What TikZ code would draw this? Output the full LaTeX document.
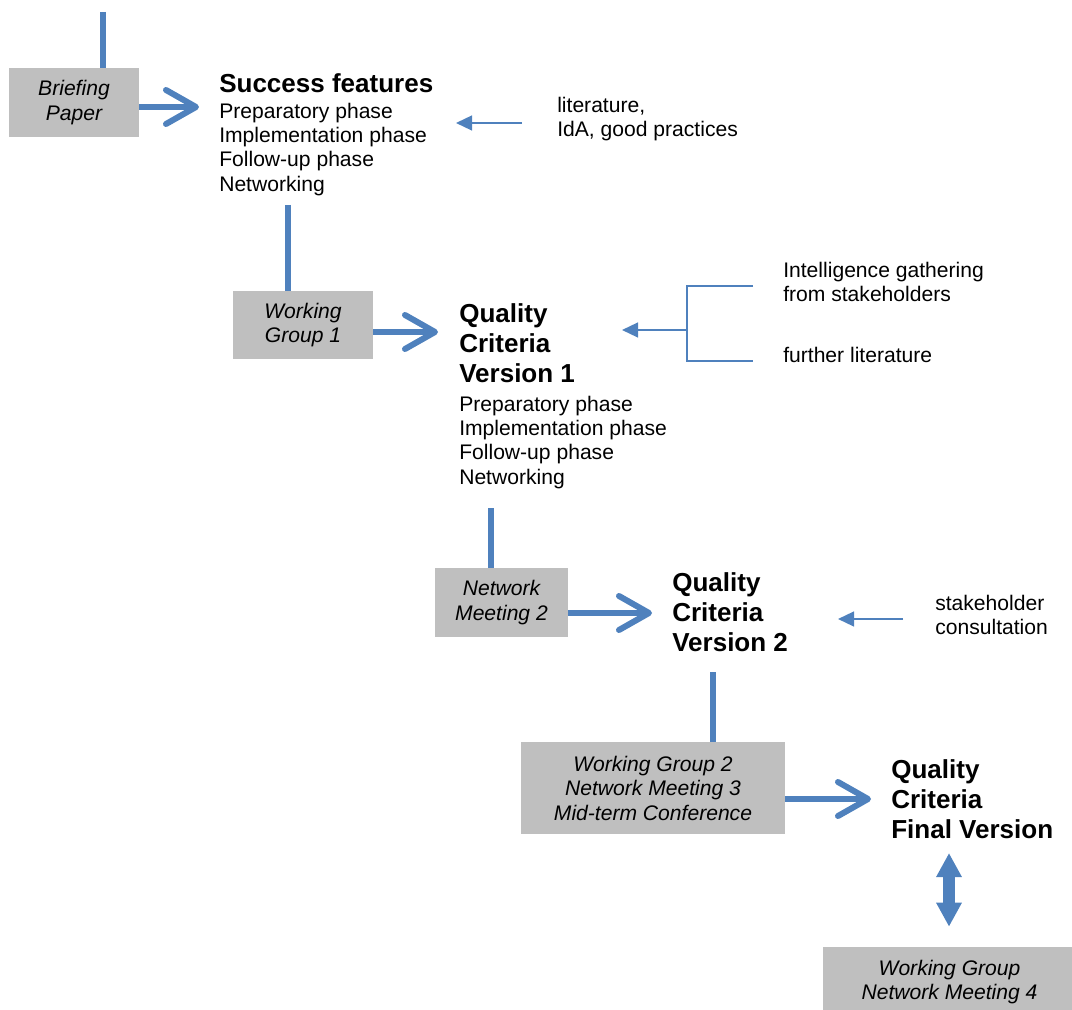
\documentclass[tikz,border=0pt]{standalone}
\usepackage{fontspec}
\setmainfont{Liberation Sans}
\usepackage{tikz}
\usetikzlibrary{arrows.meta, positioning}
\definecolor{flowblue}{RGB}{79,129,189}
\definecolor{boxgray}{RGB}{191,191,191}
\tikzset{>=Stealth}

\begin{document}
\begin{tikzpicture}[x=0.025cm, y=-0.025cm,
    phasebox/.style={fill=boxgray, align=center, inner sep=0,
        font=\itshape\fontsize{15}{17.4}\selectfont},
    titletext/.style={anchor=north west, inner sep=0, align=left,
        font=\bfseries\fontsize{18.5}{21.3}\selectfont},
    listtext/.style={anchor=north west, inner sep=0, align=left,
        font=\fontsize{15}{17.2}\selectfont},
    flow/.style={flowblue, line width=0.15cm},
    flowarrow/.style={flow, -{Straight Barb[length=0.75cm, width=0.85cm, round]}},
    link/.style={flowblue, line width=1.4pt},
    inarrow/.style={link, -{Triangle[length=0.4cm, width=0.37cm]}}]
    \useasboundingbox (0,0) rectangle (1072,1010);

    % grey boxes
    \node[phasebox, minimum width=3.25cm, minimum height=1.725cm] (brief) at (74,102.5) {Briefing\\Paper};
    \node[phasebox, minimum width=3.5cm, minimum height=1.7cm] (wg1) at (303,325) {Working\\Group 1};
    \node[phasebox, minimum width=3.325cm, minimum height=1.725cm] (nm2) at (501.5,602.5) {Network\\Meeting 2};
    \node[phasebox, minimum width=6.6cm, minimum height=2.3cm] (wg2) at (653,788) {Working Group 2\\Network Meeting 3\\Mid-term Conference};
    \node[phasebox, minimum width=6.325cm, minimum height=1.75cm] (wg4) at (949.5,982) {Working Group\\Network Meeting 4};

    % versions
    \node[titletext] (sf) at (219,73) {Success features};
    \node[listtext] (sfl) at (219,103) {Preparatory phase\\Implementation phase\\Follow-up phase\\Networking};
    \node[titletext] (qc1) at (459,303) {Quality\\Criteria\\Version 1};
    \node[listtext] (qc1l) at (459,396) {Preparatory phase\\Implementation phase\\Follow-up phase\\Networking};
    \node[titletext] (qc2) at (672,572) {Quality\\Criteria\\Version 2};
    \node[titletext] (qcf) at (891,759) {Quality\\Criteria\\Final Version};

    % inputs
    \node[listtext] (lit) at (557,97) {literature,\\IdA, good practices};
    \node[listtext] (intel) at (783,262) {Intelligence gathering\\from stakeholders};
    \node[listtext] (furth) at (783,347) {further literature};
    \node[listtext] (cons) at (935,595) {stakeholder\\consultation};

    % vertical feeds
    \coordinate (s0) at (103,12);
    \coordinate (s1) at (288,205);
    \coordinate (s2) at (491,508);
    \coordinate (s3) at (713,672);
    \draw[flow] (s0) -- (s0 |- brief.north);
    \draw[flow] (s1) -- (s1 |- wg1.north);
    \draw[flow] (s2) -- (s2 |- nm2.north);
    \draw[flow] (s3) -- (s3 |- wg2.north);

    % big arrows
    \coordinate (t0) at (199,107);
    \coordinate (t1) at (438,332);
    \coordinate (t2) at (652,613);
    \coordinate (t3) at (871,799);
    \draw[flowarrow] (t0 -| brief.east) -- (t0);
    \draw[flowarrow] (t1 -| wg1.east) -- (t1);
    \draw[flowarrow] (t2 -| nm2.east) -- (t2);
    \draw[flowarrow] (t3 -| wg2.east) -- (t3);

    % thin arrows
    \coordinate (l0) at (522,123);
    \coordinate (l1) at (903,619);
    \draw[inarrow] (l0) -- ++(-66,0);
    \draw[inarrow] (l1) -- ++(-65,0);
    \coordinate (b0) at (753,286);
    \coordinate (b1) at (687,361);
    \coordinate (bm) at (687,330);
    \draw[link] (b0) -| (b1) -- (b1 -| b0);
    \draw[inarrow] (bm) -- ++(-65,0);

    % final feedback
    \coordinate (d0) at (949,853);
    \draw[flowblue, line width=0.3cm, shorten >=0.5cm,
        {Triangle[length=0.6cm, width=0.6cm]}-{Triangle[length=0.6cm, width=0.6cm]}]
        (d0) -- (d0 |- wg4.north);
\end{tikzpicture}
\end{document}
